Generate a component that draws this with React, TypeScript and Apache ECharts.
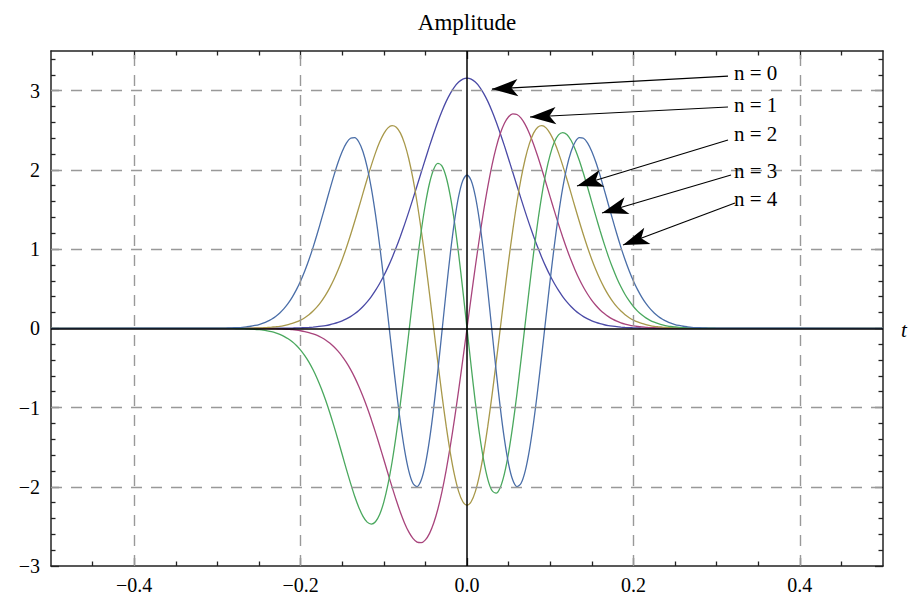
import React, { useEffect, useRef } from "react";
import * as echarts from "echarts";

// time samples (t)
const tValues = [
  -0.5, -0.3, -0.295, -0.29, -0.285, -0.28, -0.275, -0.27, -0.265, -0.26, -0.255, -0.25, -0.245, -0.24, -0.235,
  -0.23, -0.225, -0.22, -0.215, -0.21, -0.205, -0.2, -0.195, -0.19, -0.185, -0.18, -0.175, -0.17, -0.165, -0.16,
  -0.155, -0.15, -0.145, -0.14, -0.135, -0.13, -0.125, -0.12, -0.115, -0.11, -0.105, -0.1, -0.095, -0.09, -0.085,
  -0.08, -0.075, -0.07, -0.065, -0.06, -0.055, -0.05, -0.045, -0.04, -0.035, -0.03, -0.025, -0.02, -0.015, -0.01,
  -0.005, 0, 0.005, 0.01, 0.015, 0.02, 0.025, 0.03, 0.035, 0.04, 0.045, 0.05, 0.055, 0.06, 0.065, 0.07, 0.075,
  0.08, 0.085, 0.09, 0.095, 0.1, 0.105, 0.11, 0.115, 0.12, 0.125, 0.13, 0.135, 0.14, 0.145, 0.15, 0.155, 0.16,
  0.165, 0.17, 0.175, 0.18, 0.185, 0.19, 0.195, 0.2, 0.205, 0.21, 0.215, 0.22, 0.225, 0.23, 0.235, 0.24, 0.245,
  0.25, 0.255, 0.26, 0.265, 0.27, 0.275, 0.28, 0.285, 0.29, 0.295, 0.3, 0.5,
];

const amp0 = [
  0,
  0, 0, 0, 0, 0, 0, 0, 0, 0, 0, 0, 0, 0, 0.001, 0.001, 0.001, 0.002, 0.002, 0.003, 0.005, 0.006, 0.008, 0.011,
  0.015, 0.02, 0.027, 0.035, 0.045, 0.058, 0.074, 0.094, 0.119, 0.148, 0.184, 0.226, 0.276, 0.334, 0.401, 0.478,
  0.565, 0.663, 0.772, 0.892, 1.022, 1.163, 1.312, 1.469, 1.633, 1.8, 1.969, 2.137, 2.302, 2.459, 2.608, 2.743,
  2.864, 2.966, 3.048, 3.108, 3.145,
  3.157,
  3.145, 3.108, 3.048, 2.966, 2.864, 2.743, 2.608, 2.459, 2.302, 2.137, 1.969, 1.8, 1.633, 1.469, 1.312, 1.163,
  1.022, 0.892, 0.772, 0.663, 0.565, 0.478, 0.401, 0.334, 0.276, 0.226, 0.184, 0.148, 0.119, 0.094, 0.074, 0.058,
  0.045, 0.035, 0.027, 0.02, 0.015, 0.011, 0.008, 0.006, 0.005, 0.003, 0.002, 0.002, 0.001, 0.001, 0.001, 0, 0,
  0, 0, 0, 0, 0, 0, 0, 0, 0, 0, 0,
  0,
];

const amp1 = [
  0,
  0, 0, 0, 0, 0, 0, 0, 0, 0, -0.001, -0.001, -0.002, -0.002, -0.003, -0.005, -0.007, -0.009, -0.013, -0.017,
  -0.023, -0.031, -0.041, -0.054, -0.07, -0.09, -0.116, -0.147, -0.186, -0.232, -0.288, -0.353, -0.43, -0.518,
  -0.619, -0.734, -0.861, -1.0, -1.152, -1.313, -1.482, -1.656, -1.832, -2.005, -2.171, -2.324, -2.459, -2.57,
  -2.652, -2.699, -2.706, -2.67, -2.588, -2.458, -2.281, -2.057, -1.789, -1.482, -1.143, -0.777, -0.393,
  0,
  0.393, 0.777, 1.143, 1.482, 1.789, 2.057, 2.281, 2.458, 2.588, 2.67, 2.706, 2.699, 2.652, 2.57, 2.459, 2.324,
  2.171, 2.005, 1.832, 1.656, 1.482, 1.313, 1.152, 1.0, 0.861, 0.734, 0.619, 0.518, 0.43, 0.353, 0.288, 0.232,
  0.186, 0.147, 0.116, 0.09, 0.07, 0.054, 0.041, 0.031, 0.023, 0.017, 0.013, 0.009, 0.007, 0.005, 0.003, 0.002,
  0.002, 0.001, 0.001, 0, 0, 0, 0, 0, 0, 0, 0, 0,
  0,
];

const amp2 = [
  0,
  0, 0, 0, 0, 0, 0.001, 0.001, 0.002, 0.002, 0.004, 0.005, 0.007, 0.01, 0.014, 0.019, 0.025, 0.034, 0.046, 0.061,
  0.08, 0.104, 0.134, 0.172, 0.218, 0.273, 0.34, 0.418, 0.51, 0.615, 0.735, 0.869, 1.017, 1.177, 1.348, 1.525,
  1.706, 1.885, 2.056, 2.214, 2.35, 2.458, 2.53, 2.558, 2.538, 2.463, 2.331, 2.14, 1.891, 1.588, 1.237, 0.848,
  0.43, -0.002, -0.434, -0.85, -1.235, -1.574, -1.853, -2.061, -2.189,
  -2.233,
  -2.189, -2.061, -1.853, -1.574, -1.235, -0.85, -0.434, -0.002, 0.43, 0.848, 1.237, 1.588, 1.891, 2.14, 2.331,
  2.463, 2.538, 2.558, 2.53, 2.458, 2.35, 2.214, 2.056, 1.885, 1.706, 1.525, 1.348, 1.177, 1.017, 0.869, 0.735,
  0.615, 0.51, 0.418, 0.34, 0.273, 0.218, 0.172, 0.134, 0.104, 0.08, 0.061, 0.046, 0.034, 0.025, 0.019, 0.014,
  0.01, 0.007, 0.005, 0.004, 0.002, 0.002, 0.001, 0.001, 0, 0, 0, 0, 0,
  0,
];

const amp3 = [
  0,
  0, -0.001, -0.001, -0.001, -0.002, -0.003, -0.004, -0.006, -0.009, -0.012, -0.017, -0.023, -0.032, -0.043,
  -0.058, -0.077, -0.101, -0.132, -0.17, -0.217, -0.275, -0.345, -0.427, -0.524, -0.636, -0.763, -0.905, -1.062,
  -1.231, -1.409, -1.593, -1.777, -1.954, -2.119, -2.261, -2.373, -2.446, -2.471, -2.441, -2.35, -2.193, -1.971,
  -1.684, -1.339, -0.945, -0.514, -0.062, 0.392, 0.829, 1.228, 1.569, 1.834, 2.008, 2.081, 2.047, 1.906, 1.664,
  1.334, 0.931, 0.479,
  0,
  -0.479, -0.931, -1.334, -1.664, -1.906, -2.047, -2.081, -2.008, -1.834, -1.569, -1.228, -0.829, -0.392, 0.062,
  0.514, 0.945, 1.339, 1.684, 1.971, 2.193, 2.35, 2.441, 2.471, 2.446, 2.373, 2.261, 2.119, 1.954, 1.777, 1.593,
  1.409, 1.231, 1.062, 0.905, 0.763, 0.636, 0.524, 0.427, 0.345, 0.275, 0.217, 0.17, 0.132, 0.101, 0.077, 0.058,
  0.043, 0.032, 0.023, 0.017, 0.012, 0.009, 0.006, 0.004, 0.003, 0.002, 0.001, 0.001, 0.001, 0,
  0,
];

const amp4 = [
  0,
  0.001, 0.002, 0.003, 0.005, 0.007, 0.009, 0.013, 0.019, 0.026, 0.036, 0.048, 0.065, 0.087, 0.115, 0.15, 0.194,
  0.248, 0.314, 0.394, 0.488, 0.597, 0.723, 0.865, 1.022, 1.193, 1.374, 1.56, 1.747, 1.927, 2.092, 2.232, 2.337,
  2.399, 2.406, 2.352, 2.229, 2.035, 1.77, 1.437, 1.047, 0.611, 0.148, -0.322, -0.776, -1.189, -1.537, -1.799,
  -1.956, -1.997, -1.915, -1.714, -1.403, -1.002, -0.534, -0.031, 0.474, 0.947, 1.355, 1.668, 1.866,
  1.933,
  1.866, 1.668, 1.355, 0.947, 0.474, -0.031, -0.534, -1.002, -1.403, -1.714, -1.915, -1.997, -1.956, -1.799,
  -1.537, -1.189, -0.776, -0.322, 0.148, 0.611, 1.047, 1.437, 1.77, 2.035, 2.229, 2.352, 2.406, 2.399, 2.337,
  2.232, 2.092, 1.927, 1.747, 1.56, 1.374, 1.193, 1.022, 0.865, 0.723, 0.597, 0.488, 0.394, 0.314, 0.248, 0.194,
  0.15, 0.115, 0.087, 0.065, 0.048, 0.036, 0.026, 0.019, 0.013, 0.009, 0.007, 0.005, 0.003, 0.002, 0.001,
  0,
];

const seriesNames = ["n = 0", "n = 1", "n = 2", "n = 3", "n = 4"];
const seriesColors = ["#4a4aa6", "#a8447c", "#a8984a", "#4aa85e", "#4a6ea8"];

// axis ticks
const xMajor = [-0.4, -0.2, 0, 0.2, 0.4];
const xMinor = [-0.45, -0.35, -0.3, -0.25, -0.15, -0.1, -0.05, 0.05, 0.1, 0.15, 0.25, 0.3, 0.35, 0.45];
const yMajor = [-3, -2, -1, 0, 1, 2, 3];
const yMinor = [
  -2.8, -2.6, -2.4, -2.2, -1.8, -1.6, -1.4, -1.2, -0.8, -0.6, -0.4, -0.2, 0.2, 0.4, 0.6, 0.8, 1.2, 1.4, 1.6,
  1.8, 2.2, 2.4, 2.6, 2.8, 3.2, 3.4,
];
const xGrid = [-0.4, -0.2, 0.2, 0.4];
const yGrid = [-2, -1, 1, 2, 3];

// annotation arrows: [label end of the line, arrow tip]
const arrowStarts = [
  [0.3137, 3.184],
  [0.3137, 2.793],
  [0.3137, 2.377],
  [0.3173, 1.935],
  [0.3221, 1.582],
];
const arrowTips = [
  [0.03, 3.02],
  [0.0757, 2.667],
  [0.1322, 1.796],
  [0.1623, 1.455],
  [0.1875, 1.051],
];
const labelY = [73, 105, 134, 171, 199];

const SERIF = '"Liberation Serif", "Times New Roman", serif';
const FRAME = "#222";

function minus(v: number, digits: number) {
  const s = Math.abs(v).toFixed(digits);
  return v < -1e-9 ? "\u2212" + s : s;
}

export default function App() {
  const ref = useRef<HTMLDivElement>(null);

  useEffect(() => {
    document.body.style.margin = "0";
    if (!ref.current) return;
    const chart = echarts.init(ref.current, undefined, { renderer: "svg" });

    const xBase = { type: "value", min: -0.5, max: 0.5, splitLine: { show: false } };
    const yBase = { type: "value", min: -3, max: 3.5, splitLine: { show: false } };
    const lineOn = { show: true, onZero: false, lineStyle: { color: FRAME, width: 1.5 } };
    const lineOff = { show: false, onZero: false };
    const tick = (vals: number[], len: number) => ({
      show: true,
      inside: true,
      length: len,
      customValues: vals,
      lineStyle: { color: FRAME, width: 1.3 },
    });

    const curveSeries = [amp0, amp1, amp2, amp3, amp4].map((arr, si) => ({
      name: seriesNames[si],
      type: "line",
      xAxisIndex: 0,
      yAxisIndex: 0,
      data: tValues.map((t, i) => [t, arr[i]]),
      showSymbol: false,
      smooth: 0.3,
      z: 3,
      lineStyle: { color: seriesColors[si], width: 1.3 },
      itemStyle: { color: seriesColors[si] },
    }));

    const option: any = {
      animation: false,
      grid: { left: 51, right: 31, top: 51, bottom: 37 },
      xAxis: [
        {
          ...xBase,
          position: "bottom",
          axisLine: lineOn,
          axisTick: tick(xMajor, 8),
          axisLabel: {
            customValues: xMajor,
            formatter: (v: number) => minus(v, 1),
            margin: 9,
            fontFamily: SERIF,
            fontSize: 20,
            color: "#000",
          },
        },
        { ...xBase, position: "bottom", axisLine: lineOff, axisTick: tick(xMinor, 4.5), axisLabel: { show: false } },
        { ...xBase, position: "top", axisLine: lineOn, axisTick: tick(xMajor, 8), axisLabel: { show: false } },
        { ...xBase, position: "top", axisLine: lineOff, axisTick: tick(xMinor, 4.5), axisLabel: { show: false } },
      ],
      yAxis: [
        {
          ...yBase,
          position: "left",
          axisLine: lineOn,
          axisTick: tick(yMajor, 8),
          axisLabel: {
            customValues: yMajor,
            formatter: (v: number) => minus(v, 0),
            margin: 11,
            fontFamily: SERIF,
            fontSize: 20,
            color: "#000",
          },
        },
        { ...yBase, position: "left", axisLine: lineOff, axisTick: tick(yMinor, 4.5), axisLabel: { show: false } },
        { ...yBase, position: "right", axisLine: lineOn, axisTick: tick(yMajor, 8), axisLabel: { show: false } },
        { ...yBase, position: "right", axisLine: lineOff, axisTick: tick(yMinor, 4.5), axisLabel: { show: false } },
      ],
      series: [
        {
          type: "line",
          data: [],
          z: 1,
          markLine: {
            silent: true,
            symbol: "none",
            label: { show: false },
            lineStyle: { type: [11, 9], color: "#999", width: 1.4 },
            data: [...xGrid.map((v) => ({ xAxis: v })), ...yGrid.map((v) => ({ yAxis: v }))],
          },
        },
        ...curveSeries,
        {
          type: "line",
          data: [],
          z: 5,
          markLine: {
            silent: true,
            symbol: "none",
            label: { show: false },
            lineStyle: { type: "solid", color: "#000", width: 1.5 },
            data: [
              { yAxis: 0 },
              { xAxis: 0 },
              ...arrowStarts.map((s, i) => [
                { coord: s, symbol: "none", lineStyle: { color: "#000", width: 1.2, type: "solid" } },
                { coord: arrowTips[i], symbol: "arrow", symbolSize: [13, 26] },
              ]),
            ],
          },
        },
      ],
      graphic: [
        {
          type: "text",
          x: 467,
          y: 22,
          style: {
            text: "Amplitude",
            font: `23px ${SERIF}`,
            fill: "#000",
            align: "center",
            verticalAlign: "middle",
          },
        },
        {
          type: "text",
          x: 901,
          y: 330,
          style: {
            text: "t",
            font: `italic 21px ${SERIF}`,
            fill: "#000",
            align: "left",
            verticalAlign: "middle",
          },
        },
        ...seriesNames.map((name, i) => ({
          type: "text",
          x: 734,
          y: labelY[i],
          z: 10,
          style: {
            text: name,
            font: `21px ${SERIF}`,
            fill: "#000",
            align: "left",
            verticalAlign: "middle",
          },
        })),
      ],
    };

    chart.setOption(option);
    return () => chart.dispose();
  }, []);

  return <div ref={ref} style={{ width: 914, height: 603 }} />;
}
